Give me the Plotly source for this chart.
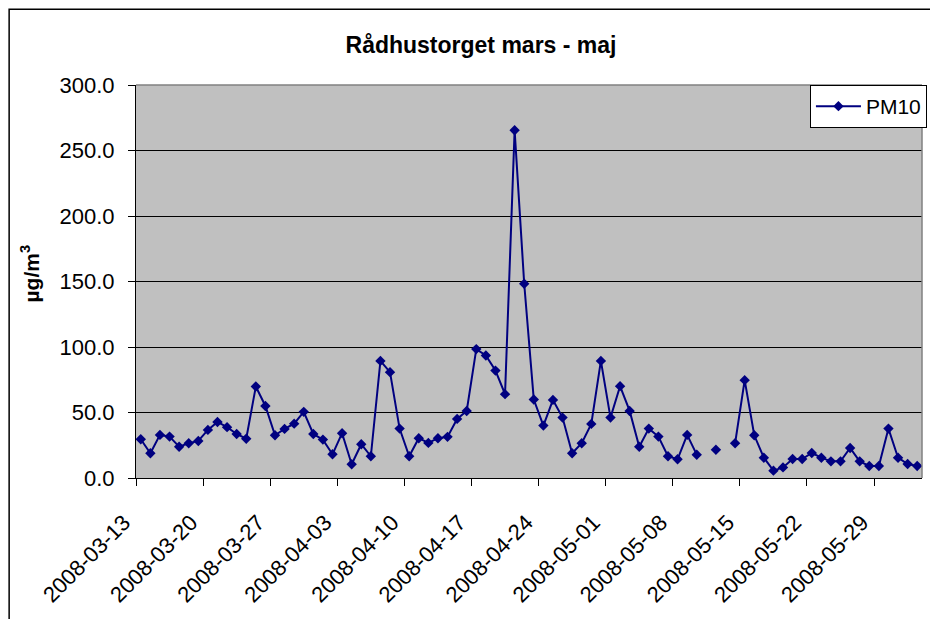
import plotly.graph_objects as go
import pandas as pd

dates = pd.date_range("2008-03-13", "2008-06-02", freq="D")

pm10 = [29.6, 18.9, 32.9, 31.6, 23.9, 26.5, 28.3, 36.7, 42.8, 38.8,
        33.6, 30.0, 69.8, 55.0, 32.6, 37.5, 41.5, 50.5, 33.6, 29.3,
        18.1, 34.2, 10.5, 25.8, 16.6, 89.4, 80.8, 37.7, 16.6, 30.4,
        26.8, 30.4, 31.4, 45.1, 51.2, 98.4, 93.5, 82.0, 64.0, 265.5,
        148.3, 59.9, 40.0, 59.6, 46.1, 18.9, 26.5, 41.3, 89.4, 46.1,
        70.1, 51.2, 23.9, 37.7, 31.6, 16.6, 14.3, 32.9, 17.8, None,
        21.6, None, 26.5, 74.7, 32.6, 15.5, 5.6, 8.1, 14.5, 14.5,
        19.1, 15.5, 12.7, 12.7, 22.9, 12.7, 9.2, 9.2, 37.7, 15.5,
        10.7, 9.2]

tick_labels = ["2008-03-13", "2008-03-20", "2008-03-27", "2008-04-03",
               "2008-04-10", "2008-04-17", "2008-04-24", "2008-05-01",
               "2008-05-08", "2008-05-15", "2008-05-22", "2008-05-29"]

half_day = pd.Timedelta(hours=12)
# Excel puts each day in the middle of its slot, ticks on slot edges
tick_vals = [pd.Timestamp(t) - half_day for t in tick_labels]

font = "Liberation Sans, Arial, sans-serif"
navy = "#000080"

fig = go.Figure(go.Scatter(
    x=dates,
    y=pm10,
    name="PM10",
    mode="lines+markers",
    line=dict(color=navy, width=2),
    marker=dict(symbol="diamond", size=8, color=navy),
    connectgaps=False,
))

# page body has an 8px margin, so the figure is 8px smaller than the window
fig.update_layout(
    width=930,
    height=611,
    margin=dict(l=128, r=15, t=77, b=141),
    paper_bgcolor="white",
    plot_bgcolor="#C0C0C0",
    font=dict(family=font, size=22, color="black"),
    title=dict(text="<b>Rådhustorget mars - maj</b>", x=0.5086, xanchor="center",
               y=0.939, yanchor="middle", font=dict(size=23)),
    showlegend=True,
    legend=dict(x=1.005, xanchor="right", y=1.0, yanchor="top",
                bgcolor="white", bordercolor="black", borderwidth=1,
                itemwidth=45, font=dict(size=21)),
    xaxis=dict(
        type="date",
        range=[dates[0] - half_day, dates[-1] + half_day],
        tickvals=tick_vals,
        ticktext=tick_labels,
        tickangle=-45,
        ticks="outside",
        ticklen=7,
        tickcolor="black",
        ticklabelstandoff=15,
        ticklabelshift=-12,
        showline=True,
        linecolor="black",
        linewidth=1,
        showgrid=False,
        zeroline=False,
    ),
    yaxis=dict(
        range=[0, 300],
        dtick=50,
        tickformat=".1f",
        ticks="outside",
        ticklen=7,
        tickcolor="black",
        ticklabelstandoff=9,
        showline=True,
        linecolor="black",
        linewidth=1,
        gridcolor="black",
        gridwidth=1,
        zeroline=False,
    ),
    annotations=[dict(
        text="<b>µg/m<sup>3</sup></b>", textangle=-90,
        xref="paper", yref="paper", x=-0.135, y=0.52,
        xanchor="center", yanchor="middle",
        showarrow=False, font=dict(size=21),
    )],
    shapes=[
        # outer chart frame, partly outside the window
        dict(type="rect", xref="paper", yref="paper",
             x0=-0.1614, x1=1.04, y0=-0.4, y1=1.193,
             line=dict(color="black", width=1.5)),
        # light border on the top and right of the plot area
        dict(type="line", xref="paper", yref="paper",
             x0=0, x1=1, y0=1, y1=1, line=dict(color="#808080", width=1.5)),
        dict(type="line", xref="paper", yref="paper",
             x0=1, x1=1, y0=0, y1=1, line=dict(color="#808080", width=1.5)),
    ],
)

fig.write_html("out.html")
